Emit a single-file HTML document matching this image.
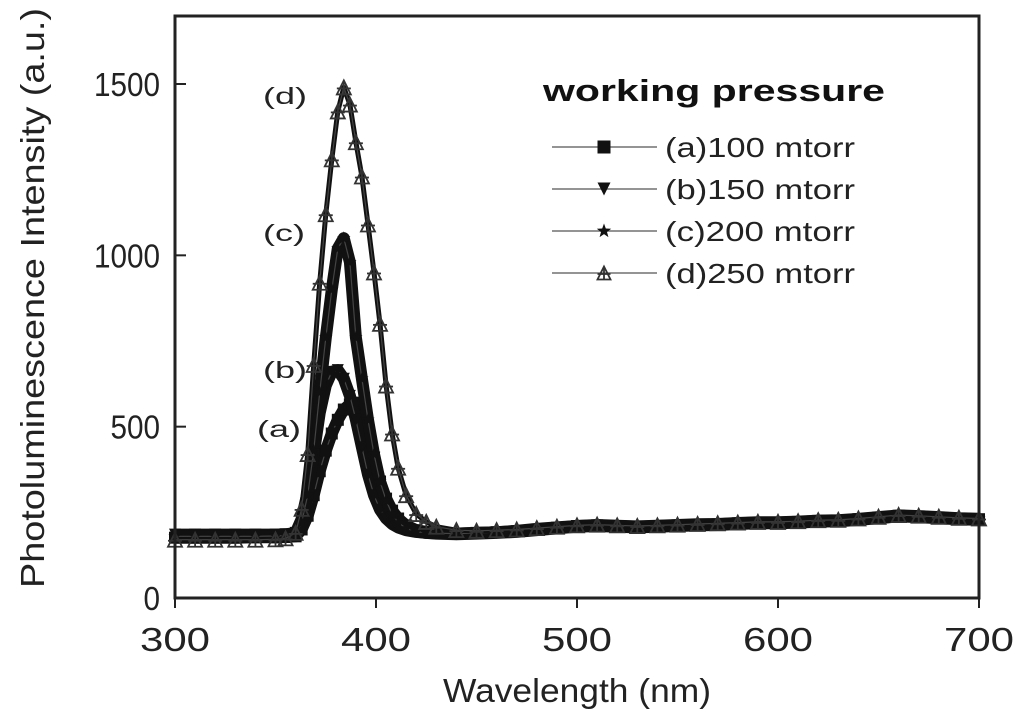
<!DOCTYPE html>
<html><head><meta charset="utf-8"><style>
html,body{margin:0;padding:0;background:#fff;}
svg{display:block;font-family:"Liberation Sans",sans-serif;}
</style></head><body>
<svg id="chart" width="1024" height="714" viewBox="0 0 1024 714">
<g id="marks"></g>
<rect x="175" y="16" width="804" height="582" fill="none" stroke="#222" stroke-width="3"/>
<g id="axes"></g>
<text x="577" y="702" font-size="33" text-anchor="middle" textLength="268" lengthAdjust="spacingAndGlyphs" fill="#222">Wavelength (nm)</text>
<text transform="translate(44,298) rotate(-90)" font-size="33" text-anchor="middle" textLength="580" lengthAdjust="spacingAndGlyphs" fill="#222">Photoluminescence Intensity (a.u.)</text>
<text x="263" y="104" font-size="23" textLength="44" lengthAdjust="spacingAndGlyphs" fill="#222">(d)</text>
<text x="263" y="241" font-size="23" textLength="42" lengthAdjust="spacingAndGlyphs" fill="#222">(c)</text>
<text x="263" y="378" font-size="23" textLength="44" lengthAdjust="spacingAndGlyphs" fill="#222">(b)</text>
<text x="257" y="437" font-size="23" textLength="44" lengthAdjust="spacingAndGlyphs" fill="#222">(a)</text>
<g>
<text x="543" y="101" font-size="31" font-weight="bold" textLength="342" lengthAdjust="spacingAndGlyphs" fill="#111">working pressure</text>
<g id="legend"></g>
</g>
</svg>
<script>
const wl = [300,310,320,330,340,350,355,360,363,366,369,372,375,378,381,384,387,390,393,396,399,402,405,408,411,415,420,425,430,440,450,460,470,480,490,500,510,520,530,540,550,560,570,580,590,600,610,620,630,640,650,660,670,680,690,700];
const seriesA = [176,176,176,176,177,177,178,180,200,240,300,370,430,480,520,550,565,570,540,480,410,340,290,255,232,212,198,193,190,188,190,192,195,200,205,210,212,210,208,210,212,214,215,218,220,220,222,225,226,230,235,240,238,235,232,230];
const seriesB = [185,185,185,185,185,185,186,190,230,310,420,540,620,660,665,640,590,520,440,360,300,258,232,216,206,198,193,190,188,186,188,190,193,198,203,208,210,208,206,208,210,212,213,216,218,218,220,223,224,228,233,238,236,233,230,228];
const seriesC = [180,180,180,180,180,181,182,186,220,300,430,600,760,900,1020,1050,980,760,640,520,420,340,285,245,220,203,194,190,189,188,190,192,196,202,206,210,213,211,209,211,213,215,216,219,221,221,223,226,227,231,236,241,239,236,233,231];
const seriesD = [170,170,170,170,170,171,174,190,260,420,680,920,1120,1280,1420,1490,1440,1330,1230,1090,950,800,620,480,380,300,245,222,208,198,196,198,200,204,208,212,214,212,210,212,214,216,218,220,222,222,224,227,228,232,237,242,240,237,234,232];
const yTicks = [0,500,1000,1500];
const xTicks = [300,400,500,600,700];
const legendLabels = ["(a)100 mtorr","(b)150 mtorr","(c)200 mtorr","(d)250 mtorr"];
const NS="http://www.w3.org/2000/svg";
const X=v=>175+(v-300)*804/400;
const Y=v=>598-v*514/1500;
function mk(tag,attrs,parent){const e=document.createElementNS(NS,tag);for(const k in attrs)e.setAttribute(k,attrs[k]);parent.appendChild(e);return e;}
const axes=document.getElementById('axes');
yTicks.forEach(t=>{
  const l=mk('line',{x1:175,x2:186,y1:Y(t),y2:Y(t),stroke:'#222','stroke-width':2},axes);
  
  
  const s=String(t);
  const tx=mk('text',{x:160,y:Y(t)+12,'font-size':33,'text-anchor':'end',textLength:s.length*16.5,lengthAdjust:'spacingAndGlyphs',fill:'#222'},axes);
  tx.textContent=s;
  
  
});
xTicks.forEach(t=>{
  const l=mk('line',{x1:X(t),x2:X(t),y1:598,y2:608,stroke:'#222','stroke-width':2},axes);
  
  
  const tx=mk('text',{x:X(t),y:651,'font-size':33,'text-anchor':'middle',textLength:70,lengthAdjust:'spacingAndGlyphs',fill:'#222'},axes);
  tx.textContent=t;
  
  
});
function marker(type,cx,cy,s,parent){
  let e;
  if(type==='square'){e=mk('rect',{x:cx-s/2,y:cy-s/2,width:s,height:s,fill:'#111'},parent);}
  else if(type==='tri'){e=mk('polygon',{points:`${cx-s/2},${cy-s/2} ${cx+s/2},${cy-s/2} ${cx},${cy+s/2}`,fill:'#111'},parent);}
  else if(type==='star'){let p=[];for(let i=0;i<10;i++){const r=i%2?s*0.24:s*0.58;const a=-Math.PI/2+i*Math.PI/5;p.push((cx+r*Math.cos(a)).toFixed(1)+','+(cy+r*Math.sin(a)).toFixed(1));}e=mk('polygon',{points:p.join(' '),fill:'#111'},parent);}
  else {e=mk('g',{},parent);mk('polygon',{points:`${cx},${cy-s/2} ${cx+s/2},${cy+s/2} ${cx-s/2},${cy+s/2}`,fill:'none',stroke:'#333','stroke-width':1.8},e);mk('line',{x1:cx-s/2,x2:cx+s/2,y1:cy+1,y2:cy+1,stroke:'#333','stroke-width':1.8},e);mk('line',{x1:cx,x2:cx,y1:cy-s/2,y2:cy+s/2,stroke:'#333','stroke-width':1.8},e);}
  return e;
}
const marks=document.getElementById('marks');
const all=[[seriesA,'square','series-a'],[seriesB,'tri','series-b'],[seriesC,'star','series-c'],[seriesD,'tri-open','series-d']];
all.forEach(([vals,type,name])=>{
  const g=mk('g',{},marks);
  
  
  const pts=wl.map((w,i)=>X(w).toFixed(1)+','+Y(vals[i]).toFixed(1)).join(' ');
  const band=mk('polyline',{points:pts,fill:'none',stroke:'#111','stroke-width':type==='tri-open'?5:12,'stroke-linejoin':'round'},g);
  
  
  const line=mk('polyline',{points:pts,fill:'none',stroke:'#444','stroke-width':1.2},g);
  
  
  wl.forEach((w,i)=>{
    const m=marker(type,X(w),Y(vals[i]),type==='tri-open'?14:12,g);
    
    
  });
});
const leg=document.getElementById('legend');
const types=['square','tri','star','tri-open'];
legendLabels.forEach((lab,i)=>{
  const y=147+i*42;
  const l=mk('line',{x1:552,x2:657,y1:y,y2:y,stroke:'#555','stroke-width':1.3},leg);
  
  
  const m=marker(types[i],604,y,13,leg);
  
  
  const t=mk('text',{x:665,y:y+10,'font-size':28,textLength:190,lengthAdjust:'spacingAndGlyphs',fill:'#222'},leg);
  t.textContent=lab;
  
  
});
</script>
</body></html>
